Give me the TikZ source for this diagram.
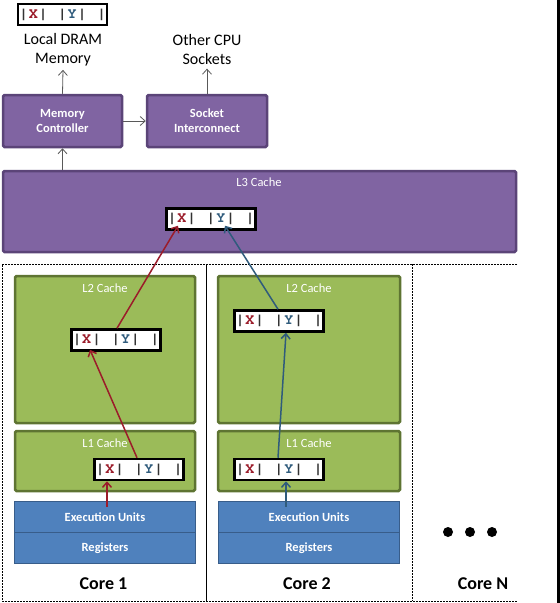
\documentclass[tikz,border=0pt]{standalone}
\usepackage{fontspec}
\setmainfont{Carlito}
\newfontfamily\cellfont{texgyrecursor-bold.otf}
\usetikzlibrary{arrows.meta}

\definecolor{purp}{HTML}{8064A2}
\definecolor{purpline}{HTML}{5B4478}
\definecolor{grn}{HTML}{9BBB59}
\definecolor{grnline}{HTML}{5E7432}
\definecolor{blu}{HTML}{4F81BD}
\definecolor{bluline}{HTML}{385D8A}
\definecolor{xred}{HTML}{9B1C2A}
\definecolor{yblue}{HTML}{2F5B7C}
\definecolor{pipe}{HTML}{333333}

\newcommand{\cellch}[1]{\makebox[9.75pt]{#1}}
\newcommand{\xycell}{{\cellfont\color{pipe}%
  \cellch{|}\cellch{\textcolor{xred}{X}}\cellch{|}\cellch{}%
  \cellch{|}\cellch{\textcolor{yblue}{Y}}\cellch{|}\cellch{}\cellch{|}}}

\begin{document}
\begin{tikzpicture}[x=1pt,y=-1pt,
    cell/.style={draw=black,line width=2.5pt,fill=white,minimum width=89pt,minimum height=21pt,inner sep=0pt,font=\fontsize{15}{16}\selectfont},
    purplebox/.style={draw=purpline,line width=2.5pt,fill=purp,rounded corners=1.5pt,text=white,align=center,font=\fontsize{12.5}{15}\selectfont\bfseries},
    greenbox/.style={draw=grnline,line width=2.5pt,fill=grn,rounded corners=1.5pt},
    bluebox/.style={draw=bluline,line width=1.5pt,fill=blu,text=white,font=\fontsize{12.5}{15}\selectfont\bfseries,minimum width=181pt,minimum height=31pt},
    boxlabel/.style={text=white,font=\fontsize{12.5}{15}\selectfont},
    toplabel/.style={align=center,font=\fontsize{16}{19}\selectfont},
    corelabel/.style={font=\fontsize{18}{20}\selectfont\bfseries},
    grayarr/.style={draw=black!65,line width=0.8pt,-{Straight Barb[length=5pt,width=9pt]}},
    redarr/.style={draw=xred,line width=1.5pt,-{Straight Barb[length=5pt,width=9pt]}},
    bluarr/.style={draw=yblue,line width=1.5pt,-{Straight Barb[length=5pt,width=9pt]}}]
\useasboundingbox (0,0) rectangle (560,603);

% memory side
\node[cell] (dram) at (62.5,14.5) {\xycell};
\node[toplabel] (mem) at (63,50) {Local DRAM\\Memory};
\node[toplabel] (cpu) at (207,50) {Other CPU\\Sockets};
\node[purplebox,minimum width=119pt,minimum height=52pt] (mc) at (62.5,121) {Memory\\Controller};
\node[purplebox,minimum width=120pt,minimum height=52pt] (si) at (207,121) {Socket\\Interconnect};

% shared cache
\node[purplebox,minimum width=513pt,minimum height=81pt] (l3) at (259.5,211.5) {};
\node[boxlabel] at (259,182) {L3 Cache};
\node[cell] (l3c) at (211,219) {\xycell};

% cores
\draw[line width=0.6pt,dash pattern=on 2pt off 1pt] (517,264) -- (2,264) -- (2,601) -- (517,601);
\draw[line width=0.6pt] (206,264) -- (206,601);
\draw[line width=0.6pt,dash pattern=on 2pt off 1pt] (412,264) -- (412,601);

\node[greenbox,minimum width=180pt,minimum height=147pt] (l2a) at (105,349.5) {};
\node[boxlabel] at (105,288) {L2 Cache};
\node[cell] (l2c1) at (116,340) {\xycell};
\node[greenbox,minimum width=180pt,minimum height=60pt] (l1a) at (105,461) {};
\node[boxlabel] at (105,443) {L1 Cache};
\node[cell] (l1c1) at (139,469.5) {\xycell};
\node[bluebox] (ex1) at (105,517) {Execution Units};
\node[bluebox] (rg1) at (105,548) {Registers};
\node[corelabel] (core1) at (103.5,584) {Core 1};

\node[greenbox,minimum width=182pt,minimum height=147pt] (l2b) at (309,349.5) {};
\node[boxlabel] at (309,288) {L2 Cache};
\node[cell] (l2c2) at (279,321) {\xycell};
\node[greenbox,minimum width=182pt,minimum height=60pt] (l1b) at (309,461) {};
\node[boxlabel] at (309,443) {L1 Cache};
\node[cell] (l1c2) at (279,469.5) {\xycell};
\node[bluebox] (ex2) at (309,517) {Execution Units};
\node[bluebox] (rg2) at (309,548) {Registers};
\node[corelabel] (core2) at (307,584) {Core 2};

\fill (448,532) circle (5pt) (470,532) circle (5pt) (492,532) circle (5pt);
\node[corelabel] (coren) at (483,584) {Core N};

% right edge of the frame
\fill (557,0) rectangle (560,603);

% connectors
\draw[grayarr] (mc.north) -- (mem.south);
\draw[grayarr] (si.north) -- (cpu.south);
\draw[grayarr] (mc.east) -- (si.west);
\draw[grayarr] (l3.north -| mc) -- (mc.south);

\draw[redarr] ([xshift=2pt,yshift=-6pt]ex1.north) -- ([xshift=-32pt]l1c1.south);
\draw[redarr] ([xshift=-2pt]l1c1.north) -- ([xshift=-26pt,yshift=2pt]l2c1.south);
\draw[redarr] ([xshift=1pt]l2c1.north) -- ([xshift=-33pt,yshift=5pt]l3c.south);

\draw[bluarr] ([xshift=-23pt,yshift=-6pt]ex2.north) -- ([xshift=7pt]l1c2.south);
\draw[bluarr] ([xshift=-1pt]l1c2.north) -- ([xshift=7pt]l2c2.south);
\draw[bluarr] ([xshift=-1pt]l2c2.north) -- ([xshift=14pt,yshift=5pt]l3c.south);
\end{tikzpicture}
\end{document}
